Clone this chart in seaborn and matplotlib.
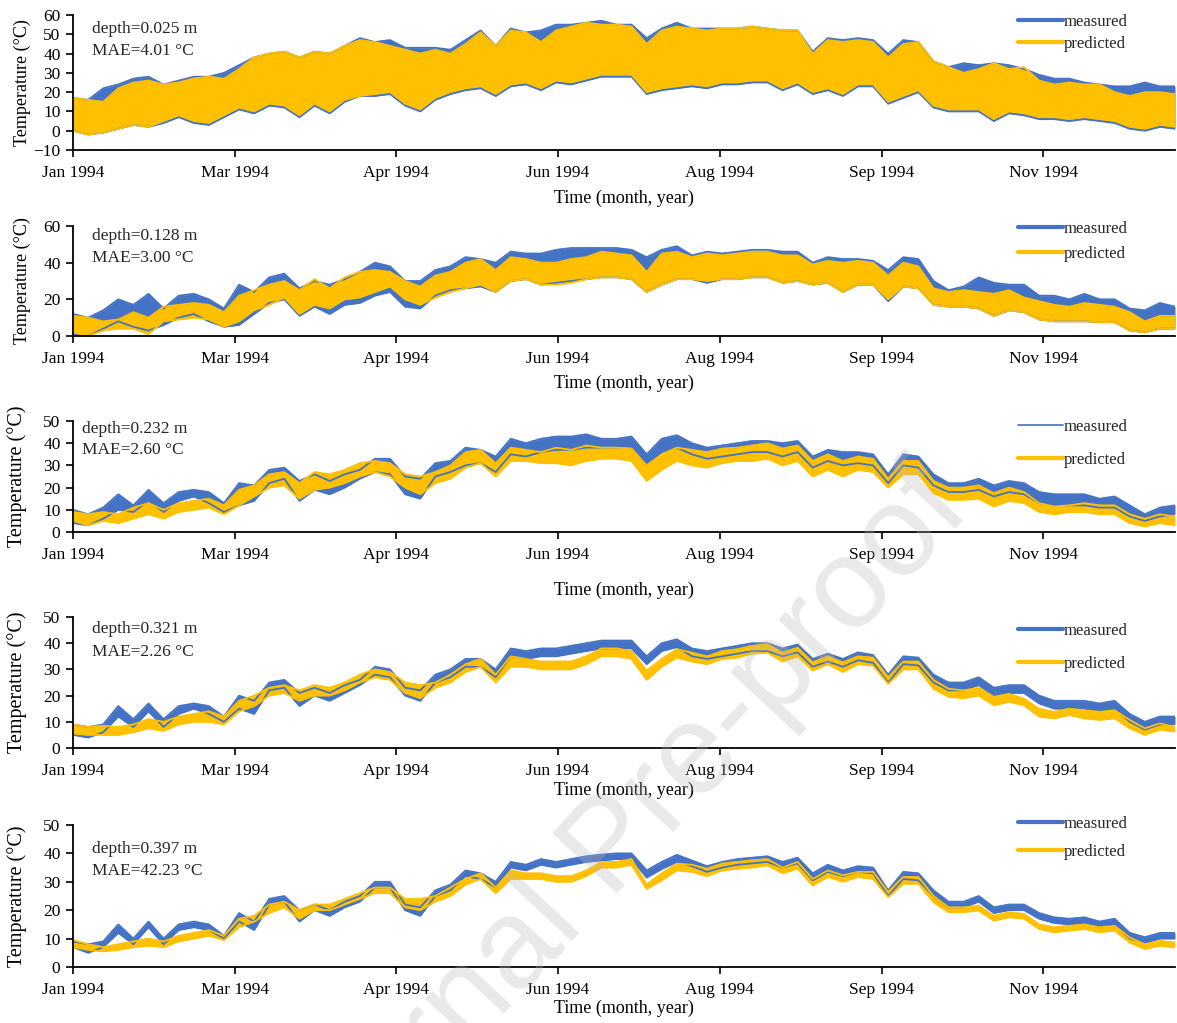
import numpy as np
import pandas as pd
import matplotlib
matplotlib.use("Agg")
import matplotlib.pyplot as plt
from matplotlib.lines import Line2D
import seaborn as sns

# Day of year (1994) at which the daily envelopes are sampled
days = np.arange(0, 366, 5)

tick_labels = ["Jan 1994", "Mar 1994", "Apr 1994", "Jun 1994",
               "Aug 1994", "Sep 1994", "Nov 1994"]
TICK_STEP_DAYS = 53.56

depths = ["0.025", "0.128", "0.232", "0.321", "0.397"]
maes = ["4.01", "3.00", "2.60", "2.26", "42.23"]

# ---- depth 0.025 m: daily max / min of soil temperature (°C) ----
p1_pred_hi = [17, 16, 15, 22, 25, 26, 24, 25, 27, 28, 27, 32, 38, 40, 41, 38, 41, 40, 44, 47, 46, 44, 42, 40, 42,
              40, 45, 51, 44, 52, 51, 46, 52, 54, 56,
              55, 55, 54, 45, 52, 54, 53, 52, 53, 53, 54, 53, 52, 52, 40, 47, 46, 47, 46, 38, 45, 46, 36, 33, 30,
              32, 35, 32, 33, 26, 24, 25, 24, 24, 20, 18, 20, 20, 19]
p1_pred_lo = [0, -2, -1, 1, 3, 2, 5, 8, 5, 4, 8, 12, 10, 14, 13, 8, 14, 10, 16, 18, 19, 20, 14, 11, 17,
              20, 22, 23, 19, 24, 25, 22, 26, 25, 27,
              29, 29, 29, 20, 22, 23, 24, 23, 25, 25, 26, 26, 22, 25, 20, 22, 19, 24, 24, 15, 18, 21, 13, 11, 11,
              11, 6, 10, 9, 7, 7, 6, 7, 6, 5, 2, 1, 3, 2]
p1_meas_hi = [17, 16, 22, 24, 27, 28, 24, 26, 28, 28, 30, 34, 38, 40, 41, 38, 41, 40, 44, 48, 46, 47, 43, 43, 43,
              42, 47, 52, 44, 53, 51, 52, 55, 55, 56,
              57, 55, 55, 48, 53, 56, 53, 53, 53, 53, 54, 53, 52, 52, 41, 48, 47, 48, 47, 40, 47, 46, 36, 33, 35,
              34, 35, 34, 32, 29, 27, 27, 25, 24, 23, 23, 25, 23, 23]
p1_meas_lo = [0, -2, -1, 1, 3, 2, 4, 7, 4, 3, 7, 11, 9, 13, 12, 7, 13, 9, 15, 18, 18, 19, 13, 10, 16,
              19, 21, 22, 18, 23, 24, 21, 25, 24, 26,
              28, 28, 28, 19, 21, 22, 23, 22, 24, 24, 25, 25, 21, 24, 19, 21, 18, 23, 23, 14, 17, 20, 12, 10, 10,
              10, 5, 9, 8, 6, 6, 5, 6, 5, 4, 1, 0, 2, 1]

# ---- depth 0.128 m ----
p2_pred_hi = [11, 10, 8, 9, 13, 10, 16, 17, 18, 17, 13, 22, 25, 28, 30, 25, 31, 26, 32, 35, 36, 35, 30, 27, 33,
              35, 40, 42, 36, 43, 42, 40, 40, 42, 43,
              46, 45, 44, 35, 45, 46, 43, 45, 44, 45, 46, 46, 44, 44, 39, 41, 40, 41, 40, 33, 40, 38, 26, 24, 25,
              24, 23, 25, 21, 19, 17, 16, 18, 17, 16, 13, 8, 11, 11]
p2_pred_lo = [2, 0, 3, 4, 4, 1, 8, 9, 10, 9, 5, 8, 14, 17, 21, 12, 17, 15, 20, 21, 24, 27, 20, 17, 21,
              24, 26, 28, 24, 30, 31, 28, 28, 29, 31,
              32, 32, 31, 24, 28, 31, 31, 30, 31, 31, 32, 32, 29, 30, 28, 29, 24, 28, 28, 20, 27, 26, 17, 16, 16,
              15, 11, 14, 13, 9, 8, 8, 8, 7.5, 7.5, 3, 2, 4, 4]
p2_meas_hi = [12, 10, 14, 20, 17, 23, 15, 22, 23, 20, 15, 28, 24, 32, 34, 26, 30, 28, 31, 35, 40, 38, 30, 30, 36,
              38, 43, 42, 40, 46, 45, 45, 47, 48, 48,
              48, 48, 47, 43, 47, 49, 44, 46, 45, 46, 47, 47, 46, 46, 40, 43, 42, 42, 41, 36, 43, 42, 30, 25, 27,
              32, 29, 28, 28, 22, 22, 20, 23, 20, 20, 15, 14, 18, 16]
p2_meas_lo = [1, 0, 4, 8, 5, 3, 6, 10, 12, 8, 5, 6, 12, 18, 20, 11, 16, 12, 17, 18, 22, 24, 16, 15, 22,
              25, 26, 27, 24, 30, 31, 28, 29, 30, 31,
              32, 32, 31, 24, 28, 31, 31, 29, 31, 31, 32, 32, 29, 30, 28, 29, 24, 28, 28, 19, 27, 26, 17, 16, 16,
              15, 11, 14, 13, 9, 8, 8, 8, 7.5, 7.5, 3, 2, 4, 4]

# ---- depth 0.232 m ----
p3_pred_hi = [9, 8, 9, 8, 11, 13, 10, 13, 14, 15, 12, 19, 21, 26, 27, 22, 27, 26, 28, 31, 32, 31, 26, 25, 27,
              30, 36, 37, 31, 38, 37, 36, 38, 37, 39,
              38, 38, 37.6, 30, 35, 38, 37, 36, 37.6, 38, 39, 40, 37.6, 39, 32, 35, 32, 34, 33, 24, 32, 32, 23, 20, 20,
              21, 17.5, 20, 18, 13, 11.5, 12, 13, 12, 12, 8, 6, 8, 7]
p3_pred_lo = [5, 3, 5, 4, 6, 8, 6, 9, 10, 11, 8, 12, 16, 20, 21, 15, 19, 20, 22, 25, 27, 25, 20, 17, 22,
              24, 29, 31, 25, 32, 32, 31, 31, 30, 32,
              33, 33, 32, 23, 28, 32, 30, 29, 31, 32, 32, 33, 30, 32, 25, 28, 25, 28, 27, 20, 26, 26, 17.5, 14.5, 14.5,
              15, 11.5, 14, 13, 9, 8, 9, 9, 8, 8, 4, 2.5, 4, 3]
p3_meas_hi = [10, 8, 11, 17, 12, 19, 13, 18, 19, 18, 13, 22, 21, 28, 29, 23, 26, 23, 26, 28, 33, 33, 25, 24, 31,
              32, 38, 37, 34, 42, 40, 42, 43, 43, 44,
              42, 42, 43, 35, 42, 43.6, 40, 38, 39, 40, 41, 41, 40, 41, 34, 37, 36, 36, 35, 26, 35, 34, 26, 22, 22,
              24, 21, 23, 22, 18, 17, 17, 17, 15, 16, 12, 8, 11, 12]
p3_meas_lo = [4, 3, 6, 10, 9, 14, 9, 14, 16, 13, 9, 12, 14, 22, 24, 14, 19, 17, 20, 24, 27, 26, 17, 15, 25,
              27, 30, 31, 27, 35, 34, 36, 37, 37, 38,
              38, 38, 38, 30, 36, 38, 35, 33, 34, 35, 36, 36, 34, 36, 29, 32, 30, 31, 30, 22, 30, 29, 21, 18, 18,
              19, 16, 18, 17, 13, 12, 12, 12, 11, 11, 7, 5, 7, 8]

# ---- depth 0.321 m ----
p4_pred_hi = [9, 8, 8.5, 8, 9, 11, 10, 12, 13, 14, 12, 18, 20, 23, 24, 22, 24, 23, 25, 28, 30, 29, 25, 24, 25,
              28, 32, 34, 28, 35, 34, 33, 33, 33, 35,
              38, 38, 37, 29.5, 34, 37.7, 36.4, 35, 37, 37.7, 39, 39.6, 36.4, 38.3, 32.7, 35, 32.7, 35, 34.5, 27, 33,
              33, 26, 22.6, 22, 23, 19.5, 20.7, 18.8, 15, 13.8, 15, 14.4, 13.8, 14.4, 10.7, 7.5, 9.4, 8]
p4_pred_lo = [5.5, 5, 5, 5, 6, 7.5, 6.5, 9, 10, 10, 9, 14, 16, 20, 21, 18, 20, 20, 22, 25, 27, 26, 21, 19, 23,
              25, 29, 31, 25, 31, 31, 30, 30, 30, 32,
              35, 35, 34, 26, 31, 34.5, 33, 32, 34, 34.5, 36, 36.4, 33, 35, 29.5, 32, 29, 32, 31.4, 24.5, 30,
              30, 22.6, 19.5, 19, 20, 16.3, 17.6, 16.3, 12, 11.3, 12.6, 11.3, 10.7, 11.3, 7.5, 5, 7, 6.3]
p4_meas_hi = [9, 8, 9, 16, 11, 17, 11, 16, 17, 16, 12, 20, 18, 25, 26, 21, 23, 21, 24, 26, 31, 30, 23, 22, 28,
              30, 34, 34, 30, 38, 37, 38, 38, 39, 40,
              41, 41, 41, 35, 40, 41.5, 38, 37, 38, 39, 40, 40, 38, 39.5, 34, 36, 34, 36.5, 35.5, 28, 35,
              34.5, 28, 25, 25, 27, 23, 24, 24, 20, 18, 18, 18, 17, 18, 13, 10, 12, 12]
p4_meas_lo = [5, 4, 6, 12, 8, 14, 8, 13, 15, 13, 10, 15, 13, 22, 23, 16, 20, 18, 21, 24, 28, 27, 20, 18, 25,
              27, 31, 31, 27, 35, 34, 35, 35, 36, 37,
              38, 38, 38, 32, 37, 38.5, 35, 34, 35, 36, 37, 37, 35, 36.5, 31, 33, 31, 33.5, 32.5, 25, 32,
              31.5, 25, 22, 22, 24, 20, 21, 21, 17, 15, 15, 15, 14, 15, 10, 7, 9, 9]

# ---- depth 0.397 m ----
p5_pred_hi = [9.5, 8, 7, 8, 9, 10, 9, 11, 12, 13, 11, 17, 18, 22, 23, 20, 22, 22, 24, 26, 28, 28, 24, 24, 25,
              28, 31, 33, 28, 34, 33, 33, 32, 32, 34,
              37, 37, 38, 29, 33, 36.4, 36, 34.6, 36.4, 37, 37.6, 38, 35, 37, 31, 34, 32.3, 33.5, 33.5, 26.4, 31.7,
              31.7, 25, 21, 21, 21.6, 18, 19.3, 18.7, 15, 14, 14.5, 15, 14, 14.5, 10.4, 8, 9.2, 8.6]
p5_pred_lo = [7, 6, 5.5, 6, 7, 7.5, 7, 9, 10, 11, 9.5, 14, 16, 19, 21, 17, 20, 20, 22, 24, 26, 26, 21, 20, 23,
              25, 29, 31, 26, 31, 31, 31, 30, 30, 32,
              35, 35, 36, 27.5, 30.5, 34, 33.5, 32, 34, 34.6, 35, 35.8, 33, 34.6, 28.7, 31.7, 30, 31.7, 31, 24.6,
              29.3, 29.3, 22.8, 19.3, 19.3, 19.9, 16.3, 17.5, 17, 13.4, 12.2, 12.8, 13.4, 12.2, 12.8, 8.6, 6.3,
              7.5, 6.9]
p5_meas_hi = [9, 8, 9, 15, 10, 16, 10, 15, 16, 15, 11, 19, 16, 24, 25, 20, 22, 20, 23, 25, 30, 30, 22, 21, 27,
              29, 34, 33, 30, 37, 36, 38, 37, 38, 39,
              39.6, 40, 40, 34, 37, 39.5, 37.5, 35.5, 37, 38, 38.5, 39, 37, 38.5, 33, 36, 34, 35.5, 35, 27, 33.5,
              33, 27, 23, 23, 25, 21, 22, 22, 19, 17.5, 17, 17.5, 16, 17, 12, 10.5, 12, 12]
p5_meas_lo = [7, 5, 7, 12, 8, 14, 8, 13, 14, 13, 10, 16, 13, 22, 23, 16, 20, 18, 21, 23, 28, 28, 20, 18, 25,
              27, 32, 31, 28, 35, 34, 36, 35, 36, 37,
              37.5, 38, 38, 31.5, 34.5, 37, 35.5, 33.5, 35, 36, 36.5, 37, 35, 36.5, 30.5, 33.5, 32, 33.5, 33, 25,
              31, 30.5, 25, 21, 21, 23, 19, 20, 20, 17, 15.5, 15, 15.5, 14, 15, 10, 8.5, 10, 10]

series = [
    (p1_meas_hi, p1_meas_lo, p1_pred_hi, p1_pred_lo),
    (p2_meas_hi, p2_meas_lo, p2_pred_hi, p2_pred_lo),
    (p3_meas_hi, p3_meas_lo, p3_pred_hi, p3_pred_lo),
    (p4_meas_hi, p4_meas_lo, p4_pred_hi, p4_pred_lo),
    (p5_meas_hi, p5_meas_lo, p5_pred_hi, p5_pred_lo),
]

BLUE = "#4472C4"
YELLOW = "#FFC000"
FIG_W, FIG_H = 1177, 1023

# panel layout in pixels: (top, bottom) of the plotting area
layout = [
    dict(top=15, bot=150, ylim=(-10, 60), yticks=np.arange(-10, 61, 10), ylab_fs=13, ylab_x=22,
         txt_x=92, txt_y=(29, 51), leg_y=21, leg_sp=0.35, xlab_y=198, meas_lw=3.0),
    dict(top=226, bot=336, ylim=(0, 60), yticks=np.arange(0, 61, 20), ylab_fs=13, ylab_x=22,
         txt_x=92, txt_y=(236, 258), leg_y=228, leg_sp=0.55, xlab_y=383, meas_lw=3.0),
    dict(top=421, bot=532, ylim=(0, 50), yticks=np.arange(0, 51, 10), ylab_fs=14.5, ylab_x=17,
         txt_x=82, txt_y=(429, 450), leg_y=426, leg_sp=1.0, xlab_y=590, meas_lw=1.2),
    dict(top=617, bot=748, ylim=(0, 50), yticks=np.arange(0, 51, 10), ylab_fs=14.5, ylab_x=17,
         txt_x=92, txt_y=(629, 652), leg_y=630, leg_sp=1.0, xlab_y=790, meas_lw=3.0),
    dict(top=825, bot=967, ylim=(0, 50), yticks=np.arange(0, 51, 10), ylab_fs=14.5, ylab_x=17,
         txt_x=92, txt_y=(849, 871), leg_y=823, leg_sp=0.7, xlab_y=1008, meas_lw=3.0),
]
AX_L, AX_R = 73, 1175

sns.set_theme(style="ticks")
plt.rcParams["font.family"] = ["Liberation Serif", "DejaVu Serif"]

fig = plt.figure(figsize=(FIG_W / 100, FIG_H / 100), dpi=100)
fig.patch.set_facecolor("white")

for k, (lay, (m_hi, m_lo, p_hi, p_lo)) in enumerate(zip(layout, series)):
    h = lay["bot"] - lay["top"]
    rect = [AX_L / FIG_W, 1 - lay["bot"] / FIG_H, (AX_R - AX_L) / FIG_W, h / FIG_H]
    ax = fig.add_axes(rect)
    ax.set_facecolor("white")

    frame = pd.DataFrame({
        "day": np.concatenate([days] * 4),
        "temp": np.concatenate([m_hi, m_lo, p_hi, p_lo]).astype(float),
        "series": ["measured"] * (2 * len(days)) + ["predicted"] * (2 * len(days)),
        "edge": (["hi"] * len(days) + ["lo"] * len(days)) * 2,
    })

    # measured band first, predicted band drawn over it
    for name, color in (("measured", BLUE), ("predicted", YELLOW)):
        sub = frame[frame["series"] == name]
        hi = sub[sub["edge"] == "hi"]["temp"].to_numpy()
        lo = sub[sub["edge"] == "lo"]["temp"].to_numpy()
        ax.fill_between(days, lo, hi, color=color, lw=0)
        sns.lineplot(data=sub, x="day", y="temp", units="edge", estimator=None,
                     color=color, lw=1.3, ax=ax, legend=False)

    ax.set_xlim(0, 365)
    ax.set_ylim(*lay["ylim"])
    ax.set_yticks(lay["yticks"])
    ax.set_xticks(np.arange(len(tick_labels)) * TICK_STEP_DAYS)
    ax.set_xticklabels(tick_labels)
    ax.tick_params(axis="both", direction="out", length=5, width=1.2, colors="black",
                   labelsize=12.5, pad=4)
    ax.tick_params(axis="x", pad=6)
    for s in ("top", "right"):
        ax.spines[s].set_visible(False)
    for s in ("left", "bottom"):
        ax.spines[s].set_color("black")
        ax.spines[s].set_linewidth(1.3)

    ax.set_ylabel("Temperature (°C)", fontsize=lay["ylab_fs"], color="black")
    ax.yaxis.set_label_coords((lay["ylab_x"] - AX_L) / (AX_R - AX_L), 0.5)
    ax.yaxis.label.set_va("center")
    ax.set_xlabel("Time (month, year)", fontsize=13, color="black")
    ax.xaxis.set_label_coords(0.5, (lay["bot"] - lay["xlab_y"]) / h)
    ax.xaxis.label.set_va("center")

    tx = (lay["txt_x"] - AX_L) / (AX_R - AX_L)
    ax.text(tx, (lay["bot"] - lay["txt_y"][0]) / h, f"depth={depths[k]} m",
            transform=ax.transAxes, fontsize=12.5, va="center", ha="left")
    ax.text(tx, (lay["bot"] - lay["txt_y"][1]) / h, f"MAE={maes[k]} °C",
            transform=ax.transAxes, fontsize=12.5, va="center", ha="left")

    handles = [Line2D([], [], color=BLUE, lw=lay["meas_lw"]),
               Line2D([], [], color=YELLOW, lw=3.0)]
    ax.legend(handles, ["measured", "predicted"], loc="upper left",
              bbox_to_anchor=((1018 - AX_L) / (AX_R - AX_L), (lay["bot"] - lay["leg_y"] + 7) / h),
              frameon=False, fontsize=12, handlelength=2.7, handletextpad=0.05,
              labelspacing=lay["leg_sp"], borderaxespad=0, borderpad=0)

# Journal watermark
fig.text(0.52, 0.17, "Journal Pre-proof", fontsize=92, family="Liberation Sans",
         color="#b8b8b8", alpha=0.3, rotation=47, ha="center", va="center", zorder=10)

fig.savefig("out.png", dpi=100, facecolor="white")
